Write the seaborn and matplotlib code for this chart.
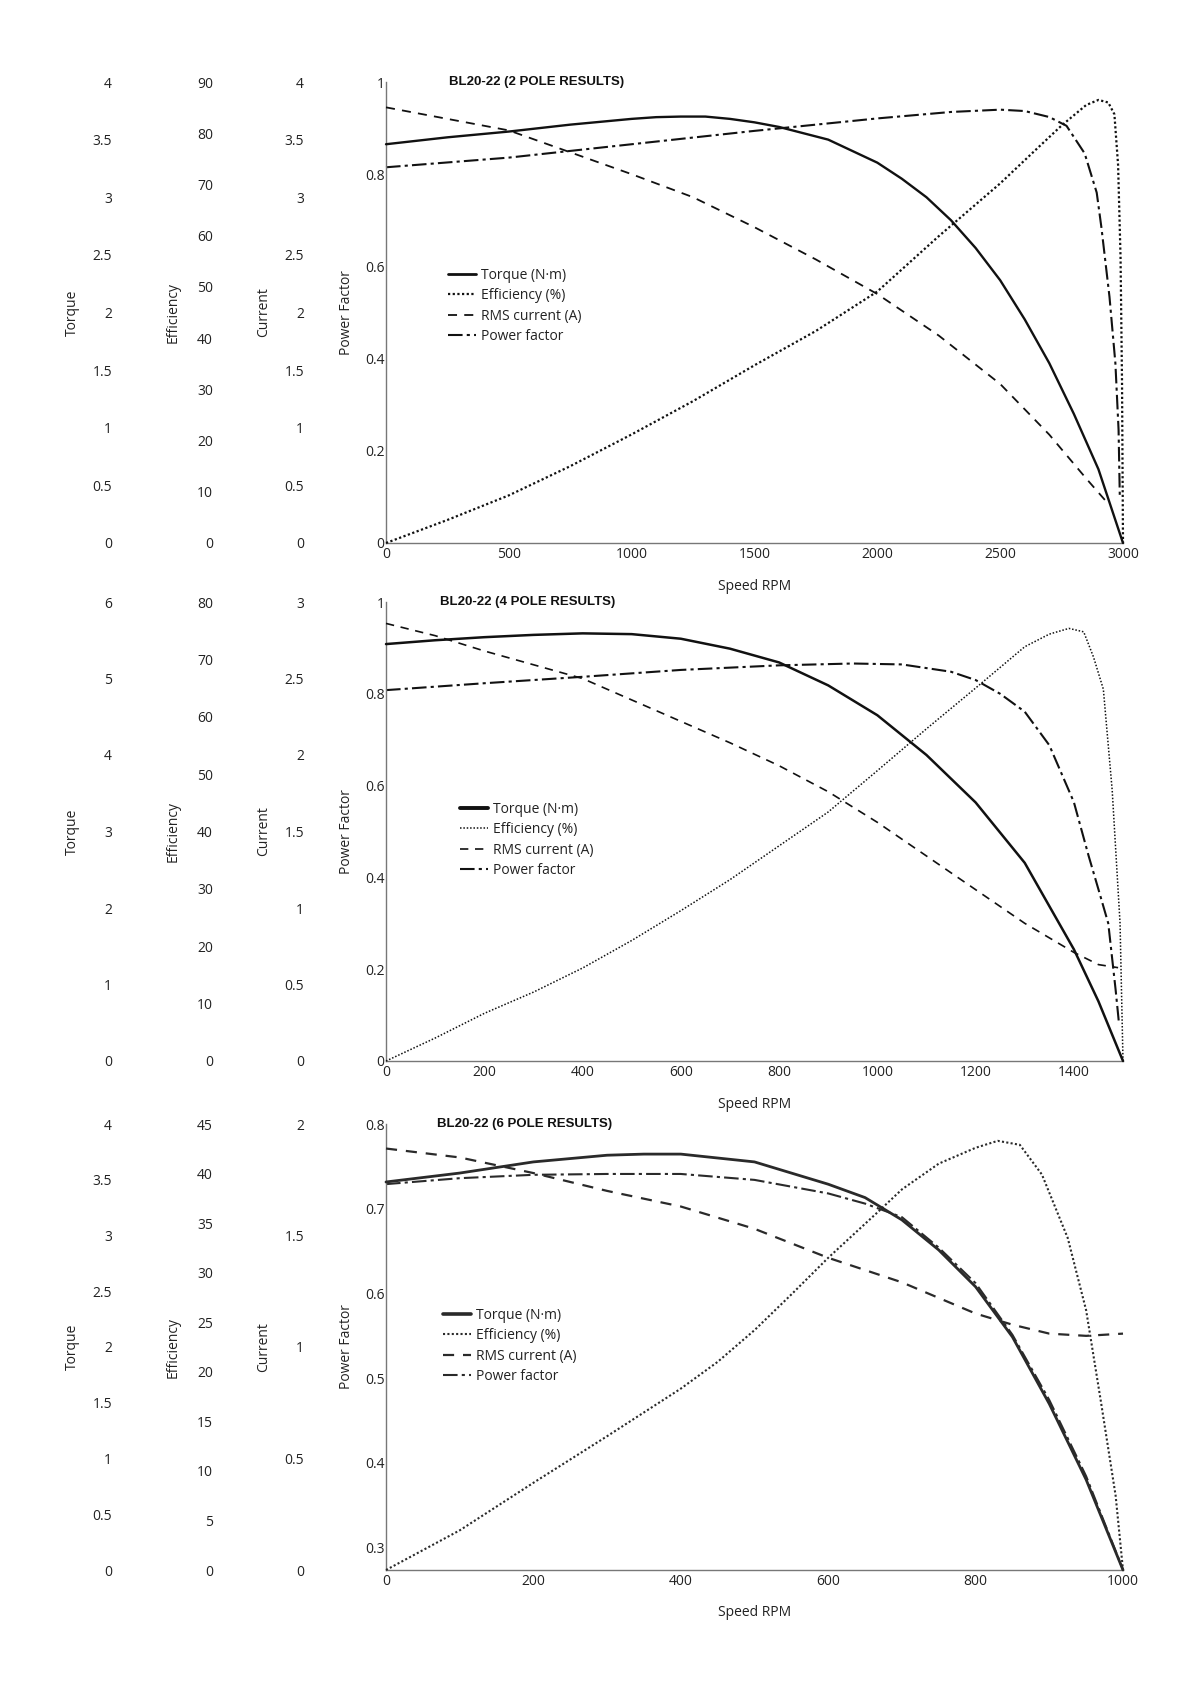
import numpy as np
import pandas as pd
import matplotlib
matplotlib.use("Agg")
import matplotlib.pyplot as plt
import seaborn as sns
from matplotlib.ticker import FuncFormatter

# ---------------- DATA ----------------
# 2 pole
p2_torque_rpm = [0, 250, 500, 750, 1000, 1100, 1200, 1300, 1400, 1500, 1600, 1800, 2000, 2100, 2200, 2300, 2400, 2500, 2600, 2700, 2800, 2900, 3000]
p2_torque = [3.46, 3.52, 3.57, 3.63, 3.68, 3.695, 3.70, 3.70, 3.68, 3.65, 3.61, 3.50, 3.30, 3.16, 3.00, 2.80, 2.56, 2.28, 1.94, 1.56, 1.12, 0.64, 0.0]
p2_eff_rpm = [0, 250, 500, 750, 1000, 1250, 1500, 1750, 2000, 2250, 2500, 2650, 2750, 2850, 2900, 2940, 2965, 2980, 2990, 2996, 3000]
p2_eff = [0, 4.5, 9.3, 15.0, 21.2, 27.7, 34.7, 41.4, 49.1, 59.9, 70.2, 77.0, 81.5, 85.5, 86.5, 86.0, 83.7, 73.8, 55.8, 31.5, 0]
p2_cur_rpm = [0, 250, 500, 750, 1000, 1250, 1500, 1750, 2000, 2250, 2500, 2700, 2850, 2940]
p2_cur = [3.78, 3.68, 3.58, 3.39, 3.20, 3.00, 2.74, 2.46, 2.16, 1.80, 1.38, 0.94, 0.56, 0.34]
p2_pf_rpm = [0, 500, 1000, 1500, 2000, 2300, 2500, 2600, 2700, 2770, 2844, 2893, 2912, 2945, 2969, 2982, 2987]
p2_pf = [0.815, 0.836, 0.865, 0.894, 0.921, 0.935, 0.940, 0.937, 0.924, 0.905, 0.845, 0.760, 0.685, 0.534, 0.390, 0.245, 0.100]

# 4 pole
p4_torque_rpm = [0, 100, 200, 300, 400, 500, 600, 700, 800, 900, 1000, 1100, 1200, 1300, 1400, 1450, 1500]
p4_torque = [5.45, 5.50, 5.54, 5.57, 5.59, 5.58, 5.52, 5.39, 5.21, 4.91, 4.52, 4.00, 3.38, 2.59, 1.46, 0.78, 0.0]
p4_eff_rpm = [0, 100, 200, 300, 400, 500, 600, 700, 800, 900, 1000, 1100, 1200, 1300, 1350, 1390, 1420, 1440, 1460, 1478, 1494, 1500]
p4_eff = [0, 4.0, 8.3, 12.0, 16.2, 21.0, 26.2, 31.6, 37.5, 43.4, 50.6, 57.9, 65.0, 72.2, 74.4, 75.4, 74.8, 70.4, 64.8, 47.2, 24.0, 0]
p4_cur_rpm = [0, 100, 200, 300, 400, 500, 600, 700, 800, 900, 1000, 1100, 1200, 1300, 1400, 1450, 1490]
p4_cur = [2.86, 2.78, 2.68, 2.59, 2.50, 2.36, 2.22, 2.08, 1.93, 1.76, 1.56, 1.34, 1.12, 0.90, 0.71, 0.63, 0.61]
p4_pf_rpm = [0, 200, 400, 600, 800, 950, 1050, 1150, 1200, 1250, 1300, 1350, 1400, 1430, 1450, 1470, 1485, 1492]
p4_pf = [0.808, 0.823, 0.837, 0.852, 0.862, 0.866, 0.864, 0.848, 0.830, 0.800, 0.761, 0.688, 0.564, 0.447, 0.374, 0.300, 0.155, 0.080]

# 6 pole
p6_torque_rpm = [0, 100, 200, 300, 350, 400, 500, 600, 650, 700, 750, 800, 850, 900, 950, 1000]
p6_torque = [3.48, 3.56, 3.66, 3.72, 3.73, 3.73, 3.66, 3.46, 3.34, 3.14, 2.87, 2.54, 2.09, 1.49, 0.81, 0.0]
p6_eff_rpm = [0, 100, 200, 300, 400, 450, 500, 550, 600, 670, 700, 750, 800, 830, 860, 890, 925, 950, 970, 990, 1000]
p6_eff = [0, 4.0, 8.8, 13.5, 18.3, 21.0, 24.2, 27.8, 31.5, 36.3, 38.4, 41.0, 42.6, 43.3, 42.9, 39.9, 33.5, 26.2, 17.0, 7.5, 0]
p6_cur_rpm = [0, 100, 200, 300, 400, 500, 600, 700, 800, 850, 900, 950, 1000]
p6_cur = [1.89, 1.85, 1.78, 1.70, 1.63, 1.53, 1.40, 1.29, 1.15, 1.10, 1.06, 1.05, 1.06]
p6_pf_rpm = [0, 100, 200, 300, 400, 500, 600, 650, 700, 750, 800, 850, 900, 950, 1000]
p6_pf = [0.729, 0.736, 0.740, 0.741, 0.741, 0.734, 0.718, 0.706, 0.690, 0.654, 0.612, 0.551, 0.474, 0.384, 0.2736]

titles = ["BL20-22 (2 POLE RESULTS)", "BL20-22 (4 POLE RESULTS)", "BL20-22 (6 POLE RESULTS)"]
legend_labels = ["Torque (N\u00b7m)", "Efficiency (%)", "RMS current (A)", "Power factor"]

p2_xticks = [0, 500, 1000, 1500, 2000, 2500, 3000]
p4_xticks = [0, 200, 400, 600, 800, 1000, 1200, 1400]
p6_xticks = [0, 200, 400, 600, 800, 1000]
p2_pf_ticks = [0, 0.2, 0.4, 0.6, 0.8, 1.0]
p4_pf_ticks = [0, 0.2, 0.4, 0.6, 0.8, 1.0]
p6_pf_ticks = [0.3, 0.4, 0.5, 0.6, 0.7, 0.8]
p2_t_ticks = [0, 0.5, 1, 1.5, 2, 2.5, 3, 3.5, 4]
p2_e_ticks = [0, 10, 20, 30, 40, 50, 60, 70, 80, 90]
p2_c_ticks = [0, 0.5, 1, 1.5, 2, 2.5, 3, 3.5, 4]
p4_t_ticks = [0, 1, 2, 3, 4, 5, 6]
p4_e_ticks = [0, 10, 20, 30, 40, 50, 60, 70, 80]
p4_c_ticks = [0, 0.5, 1, 1.5, 2, 2.5, 3]
p6_t_ticks = [0, 0.5, 1, 1.5, 2, 2.5, 3, 3.5, 4]
p6_e_ticks = [0, 5, 10, 15, 20, 25, 30, 35, 40, 45]
p6_c_ticks = [0, 0.5, 1, 1.5, 2]
p6_pf_min = 0.2733

# ---------------- STYLE ----------------
sns.set_theme(style="white")
plt.rcParams['font.family'] = ['Open Sans', 'DejaVu Sans']
plt.rcParams['text.color'] = '#222222'
plt.rcParams['axes.labelcolor'] = '#222222'
plt.rcParams['xtick.color'] = '#222222'
plt.rcParams['ytick.color'] = '#222222'

W, H = 1190, 1684
AX_L, AX_R = 386, 1123
AXW = AX_R - AX_L
FS = 10

fig = plt.figure(figsize=(W / 100, H / 100), dpi=100)
fig.patch.set_facecolor('white')
fmt = FuncFormatter(lambda v, p: f"{v:g}")


def side_axis(ax, lim, ticks, label, tick_right_px, label_px):
    tw = ax.twinx()
    tw.yaxis.set_ticks_position('left')
    tw.yaxis.set_label_position('left')
    tw.spines['left'].set_position(('axes', (tick_right_px - AX_L) / AXW))
    for s in tw.spines.values():
        s.set_visible(False)
    tw.set_ylim(*lim)
    tw.set_yticks(ticks)
    tw.yaxis.set_major_formatter(fmt)
    tw.tick_params(axis='y', length=0, pad=0, labelsize=FS)
    tw.set_ylabel(label, fontsize=FS)
    tw.yaxis.set_label_coords((label_px - AX_L) / AXW, 0.5)
    tw.yaxis.label.set_verticalalignment('center')
    return tw


def panel(top, bottom, title, title_px, xticks, xmax, pf_lim, pf_ticks,
          t_lim, t_ticks, e_lim, e_ticks, c_lim, c_ticks, series, styles, leg_xy, color, solid_leg_lw):
    hpx = bottom - top
    ax = fig.add_axes([AX_L / W, 1 - bottom / H, AXW / W, hpx / H])
    ax.set_facecolor('none')
    for s in ['top', 'right']:
        ax.spines[s].set_visible(False)
    for s in ['left', 'bottom']:
        ax.spines[s].set_color('#777777')
        ax.spines[s].set_linewidth(1.0)
    ax.set_xlim(0, xmax)
    ax.set_ylim(*pf_lim)
    ax.set_xticks(xticks)
    ax.set_yticks(pf_ticks)
    ax.xaxis.set_major_formatter(fmt)
    ax.yaxis.set_major_formatter(fmt)
    ax.tick_params(axis='x', length=0, pad=3, labelsize=FS)
    ax.tick_params(axis='y', length=0, pad=1, labelsize=FS)
    ax.set_xlabel("Speed RPM", fontsize=FS)
    ax.xaxis.set_label_coords(0.5, -43 / hpx)
    ax.xaxis.label.set_verticalalignment('center')
    ax.set_ylabel("Power Factor", fontsize=FS)
    ax.yaxis.set_label_coords((346 - AX_L) / AXW, 0.5)
    ax.yaxis.label.set_verticalalignment('center')
    ax.text((title_px - AX_L) / AXW, 1.0, title, transform=ax.transAxes,
            family=['Liberation Sans', 'DejaVu Sans'], fontweight='bold',
            fontsize=9.5, ha='left', va='center', color='#111111')

    t_ax = side_axis(ax, t_lim, t_ticks, "Torque", 112, 72)
    e_ax = side_axis(ax, e_lim, e_ticks, "Efficiency", 213, 173)
    c_ax = side_axis(ax, c_lim, c_ticks, "Current", 304, 264)

    targets = [t_ax, e_ax, c_ax, ax]
    handles = []
    for (xs, ys), a, (ls, lw), lab in zip(series, targets, styles, legend_labels):
        sns.lineplot(x=np.array(xs, float), y=np.array(ys, float), ax=a, color=color,
                     linestyle=ls, linewidth=lw, estimator=None, sort=False)
        ln = a.get_lines()[-1]
        ln.set_label(lab)
        ln.set_clip_on(False)
        handles.append(ln)
    for a, lim in zip([t_ax, e_ax, c_ax], [t_lim, e_lim, c_lim]):
        a.set_ylim(*lim)
        a.set_xlim(0, xmax)
    ax.set_ylim(*pf_lim)
    ax.set_xlim(0, xmax)

    leg = c_ax.legend(handles=handles, loc='upper left', bbox_to_anchor=leg_xy,
                      bbox_transform=ax.transAxes, frameon=False, borderpad=0,
                      borderaxespad=0, handlelength=2.0, handletextpad=0.35,
                      labelspacing=0.38, fontsize=FS)
    leg.get_lines()[0].set_linewidth(solid_leg_lw)
    return ax


styles_2 = [('-', 1.7), ((0, (1, 1.1)), 1.6), ((0, (5, 4)), 1.3), ((0, (7, 2, 1.5, 2)), 1.5)]
styles_4 = [('-', 1.8), ((0, (1, 1.2)), 1.1), ((0, (5, 4)), 1.2), ((0, (7, 2, 1.5, 2)), 1.5)]
styles_6 = [('-', 2.0), ((0, (1, 1.1)), 1.5), ((0, (5, 4)), 1.6), ((0, (7, 2, 1.5, 2)), 1.5)]

panel(82, 543, titles[0], 449, p2_xticks, 3000, (0, 1), p2_pf_ticks,
      (0, 4), p2_t_ticks, (0, 90), p2_e_ticks, (0, 4), p2_c_ticks,
      [(p2_torque_rpm, p2_torque), (p2_eff_rpm, p2_eff), (p2_cur_rpm, p2_cur), (p2_pf_rpm, p2_pf)],
      styles_2, ((448 - AX_L) / AXW, (543 - 268) / 461), '#111111', 2.0)

panel(602, 1061, titles[1], 440, p4_xticks, 1500, (0, 1), p4_pf_ticks,
      (0, 6), p4_t_ticks, (0, 80), p4_e_ticks, (0, 3), p4_c_ticks,
      [(p4_torque_rpm, p4_torque), (p4_eff_rpm, p4_eff), (p4_cur_rpm, p4_cur), (p4_pf_rpm, p4_pf)],
      styles_4, ((460 - AX_L) / AXW, (1061 - 802) / 459), '#111111', 2.8)

panel(1124, 1570, titles[2], 437, p6_xticks, 1000, (p6_pf_min, 0.8), p6_pf_ticks,
      (0, 4), p6_t_ticks, (0, 45), p6_e_ticks, (0, 2), p6_c_ticks,
      [(p6_torque_rpm, p6_torque), (p6_eff_rpm, p6_eff), (p6_cur_rpm, p6_cur), (p6_pf_rpm, p6_pf)],
      styles_6, ((443 - AX_L) / AXW, (1570 - 1308) / 446), '#2a2a2a', 2.6)

fig.savefig("out.png", dpi=100, facecolor='white')
